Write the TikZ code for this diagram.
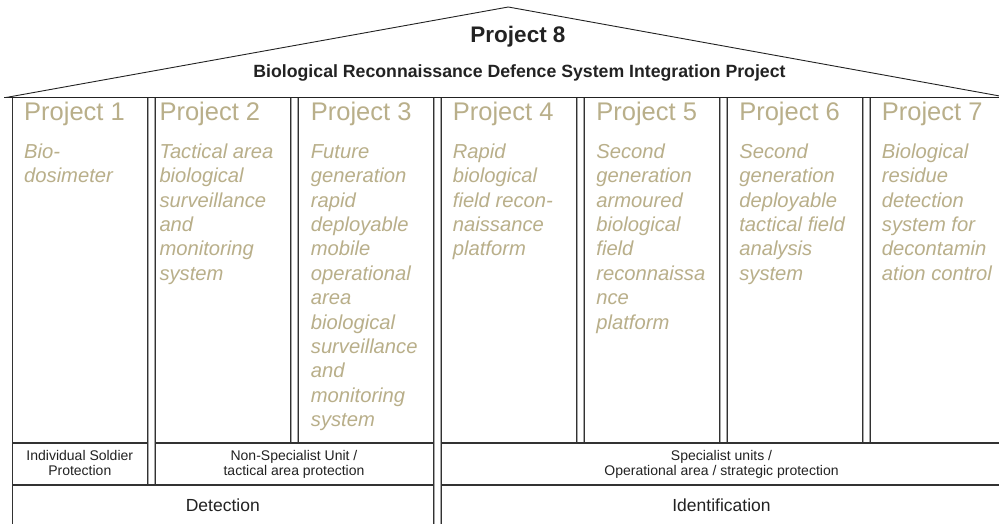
\documentclass[tikz,border=0pt]{standalone}
\usepackage{fontspec}
\setmainfont{Liberation Sans}
\definecolor{tan}{RGB}{185,175,138}
\definecolor{ink}{RGB}{34,34,34}
\definecolor{edge}{RGB}{50,50,50}
\tikzset{
  cell/.style={draw=edge, line width=1.1pt, fill=white, inner sep=0, outer sep=0, anchor=north west},
  gapbox/.style={draw=black!35, line width=0.9pt, inner sep=0, outer sep=0, anchor=north west},
  ptitle/.style={anchor=base west, inner sep=0, text=tan, font=\fontsize{25.5}{30}\selectfont},
  pdesc/.style={anchor=base west, inner sep=0, text=tan, font=\fontsize{20.2}{24.4}\selectfont\itshape},
  rowlabel/.style={anchor=base, inner sep=0, text=ink, font=\fontsize{14}{15}\selectfont},
  botlabel/.style={anchor=base, inner sep=0, text=ink, font=\fontsize{17.5}{20}\selectfont},
  rooftext/.style={anchor=base, inner sep=0, text=ink},
  roofline/.style={draw=ink, line width=0.9pt},
}
\newcommand{\mylines}[1]{\begin{tabular}[t]{@{}l@{}}#1\end{tabular}}
\newcommand{\mycent}[1]{\begin{tabular}[t]{@{}c@{}}#1\end{tabular}}
\begin{document}
\begin{tikzpicture}[x=1pt,y=-1pt]
\useasboundingbox (0,0) rectangle (999,524);
% gaps between columns
\node[gapbox, minimum width=5.6pt, minimum height=387.5pt] (g12) at (148.5,97.5) {};
\node[gapbox, minimum width=5.6pt, minimum height=345.5pt] (g23) at (291.5,97.5) {};
\node[gapbox, minimum width=5.6pt, minimum height=440pt] (g34) at (434.5,97.5) {};
\node[gapbox, minimum width=5.6pt, minimum height=345.5pt] (g45) at (577.5,97.5) {};
\node[gapbox, minimum width=5.6pt, minimum height=345.5pt] (g56) at (720.5,97.5) {};
\node[gapbox, minimum width=5.6pt, minimum height=345.5pt] (g67) at (863.5,97.5) {};
% columns
\node[cell, minimum width=135pt, minimum height=345.5pt] (c1) at (12.3,97.5) {};
\node[cell, minimum width=135pt, minimum height=345.5pt] (c2) at (155.3,97.5) {};
\node[cell, minimum width=135pt, minimum height=345.5pt] (c3) at (298.3,97.5) {};
\node[cell, minimum width=135pt, minimum height=345.5pt] (c4) at (441.3,97.5) {};
\node[cell, minimum width=135pt, minimum height=345.5pt] (c5) at (584.3,97.5) {};
\node[cell, minimum width=135pt, minimum height=345.5pt] (c6) at (727.3,97.5) {};
\node[cell, minimum width=135pt, minimum height=345.5pt] (c7) at (870.3,97.5) {};
% second row
\node[cell, minimum width=135pt, minimum height=42pt] (r2a) at (12.3,443) {};
\node[cell, minimum width=278pt, minimum height=42pt] (r2b) at (155.3,443) {};
\node[cell, minimum width=561pt, minimum height=42pt] (r2c) at (441.3,443) {};
% third row
\node[cell, minimum width=421pt, minimum height=45pt] (r3a) at (12.3,485) {};
\node[cell, minimum width=561pt, minimum height=45pt] (r3b) at (441.3,485) {};
% roof
\coordinate (tl) at (4,97.5);
\coordinate (tr) at (1006,97.5);
\coordinate (rl) at (6,97.5);
\coordinate (apex) at (508.3,7);
\coordinate (rr) at (1008,97.5);
\draw[roofline] (tl) -- (tr);
\draw[roofline, line join=miter] (rl) -- (apex) -- (rr);
\node[rooftext, font=\fontsize{22.5}{26}\selectfont\bfseries] (p8) at (518,42.3) {Project 8};
\node[rooftext, font=\fontsize{17.7}{20}\selectfont\bfseries] (p8s) at (519.5,77.5) {Biological Reconnaissance Defence System Integration Project};
% titles
\node[ptitle] (t1) at (24,121) {Project 1};
\node[ptitle] (t2) at (159.3,121) {Project 2};
\node[ptitle] (t3) at (310.7,121) {Project 3};
\node[ptitle] (t4) at (452.7,121) {Project 4};
\node[ptitle] (t5) at (596.2,121) {Project 5};
\node[ptitle] (t6) at (739.1,121) {Project 6};
\node[ptitle] (t7) at (881.7,121) {Project 7};
% descriptions
\node[pdesc] (d1) at (24,158.3) {\mylines{Bio-\\dosimeter}};
\node[pdesc] (d2) at (159.3,158.3) {\mylines{Tactical area\\biological\\surveillance\\and\\monitoring\\system}};
\node[pdesc] (d3) at (310.7,158.3) {\mylines{Future\\generation\\rapid\\deployable\\mobile\\operational\\area\\biological\\surveillance\\and\\monitoring\\system}};
\node[pdesc] (d4) at (452.7,158.3) {\mylines{Rapid\\biological\\field recon-\\naissance\\platform}};
\node[pdesc] (d5) at (596.2,158.3) {\mylines{Second\\generation\\armoured\\biological\\field\\reconnaissa\\nce\\platform}};
\node[pdesc] (d6) at (739.1,158.3) {\mylines{Second\\generation\\deployable\\tactical field\\analysis\\system}};
\node[pdesc] (d7) at (881.7,158.3) {\mylines{Biological\\residue\\detection\\system for\\decontamin\\ation control}};
% row labels
\node[rowlabel] (l1) at (79.8,460.7) {\mycent{Individual Soldier\\Protection}};
\node[rowlabel] (l2) at (294,460.7) {\mycent{Non-Specialist Unit /\\tactical area protection}};
\node[rowlabel] (l3) at (721.5,460.7) {\mycent{Specialist units /\\Operational area / strategic protection}};
\node[botlabel] (b1) at (222.8,511) {Detection};
\node[botlabel] (b2) at (721.5,511) {Identification};
\end{tikzpicture}
\end{document}
